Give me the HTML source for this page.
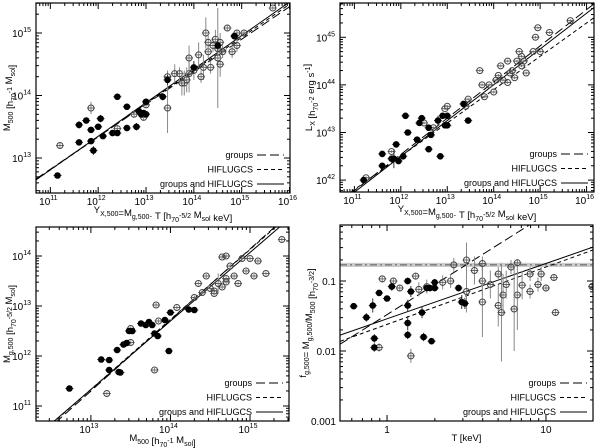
<!DOCTYPE html>
<html><head><meta charset="utf-8"><style>
html,body{margin:0;padding:0;background:#fff}
svg{display:block;font-family:"Liberation Sans",sans-serif}
</style></head><body>
<svg id="fig" width="600" height="448" viewBox="0 0 600 448"></svg>
<script>
// ---- data (log10 values) ----
const tlGroups=[[11.15,12.72,.03],[11.6,13.25,.05],[11.6,13.53,.06],[11.75,13.6,.05],[11.85,13.45,.04],[11.85,13.27,.04],[11.9,13.12,.07],[12.0,13.5,.05],[12.05,13.63,.06],[12.1,13.35,.04],[12.3,13.4,.05],[12.4,13.98,.05],[12.4,13.4,.05],[12.6,13.48,.05],[12.6,13.82,.05],[12.8,13.5,.06],[12.85,13.75,.05],[12.9,13.7,.05],[13.0,13.9,.05],[13.0,13.7,.05],[12.95,13.72,.05],[13.35,13.98,.06],[13.45,14.25,.08],[14.0,14.45,.1],[14.5,14.8,.1],[14.85,14.95,.05]];
const tlHif=[[11.2,13.2,.05],[11.85,13.8,.1],[12.4,13.47,.05],[12.75,13.7,.05],[12.95,13.65,.05],[13.0,13.85,.05],[13.45,13.8,.4],[13.45,14.3,.1],[13.6,14.35,.15],[13.7,14.35,.1],[13.8,14.2,.2],[13.9,14.35,.3],[14.0,14.4,.15],[14.1,14.65,.2],[14.2,14.45,.2],[14.25,15.0,.25],[14.3,14.7,.1],[14.35,14.45,.1],[14.4,14.8,.1],[14.45,14.9,.15],[14.5,14.6,.8],[14.5,14.75,.1],[14.55,14.85,.15],[14.6,14.7,.1],[14.7,15.08,.05],[14.8,14.7,.1],[14.85,14.95,.05],[14.9,15.0,.05],[14.9,14.8,.1],[15.05,15.0,.05],[15.65,15.4,.03],[13.9,14.6,.2],[14.15,14.3,.1],[14.3,14.85,.15],[14.55,14.5,.2],[13.85,14.25,.2],[13.75,14.2,.2]];
const trGroups=[[11.2,42.0,.04],[11.6,42.3,.04],[11.6,42.55,.05],[11.8,42.45,.05],[11.85,42.45,.2],[11.95,42.4,.05],[11.9,42.75,.04],[12.05,42.5,.05],[12.1,43.35,.04],[12.15,43.0,.04],[12.35,42.85,.05],[12.4,43.2,.04],[12.45,43.3,.04],[12.6,43.1,.04],[12.6,42.65,.05],[12.65,42.95,.05],[12.85,42.5,.05],[12.8,43.25,.1],[12.9,43.35,.05],[12.95,43.15,.05],[13.0,43.15,.05],[13.0,43.35,.05],[13.35,43.6,.04],[13.45,43.25,.03]];
const trHif=[[11.25,42.05,.03],[11.8,42.6,.03],[12.5,43.2,.03],[12.7,43.1,.03],[12.95,43.5,.03],[13.0,43.55,.03],[13.4,43.55,.03],[13.45,43.7,.03],[13.7,44.3,.03],[13.75,44.0,.03],[13.8,43.75,.03],[13.9,44.0,.03],[14.0,43.85,.03],[14.05,44.1,.03],[14.1,44.2,.03],[14.15,44.4,.03],[14.2,44.1,.03],[14.3,44.5,.03],[14.35,44.25,.03],[14.4,44.3,.03],[14.45,44.15,.03],[14.5,44.5,.03],[14.55,44.7,.03],[14.6,44.6,.03],[14.65,44.5,.03],[14.7,44.25,.03],[14.85,44.7,.03],[14.9,45.0,.03],[14.95,45.2,.03],[15.0,44.7,.03],[15.2,45.1,.03],[15.65,45.35,.03],[14.3,44.05,.03],[14.6,44.4,.03]];
const blGroups=[[12.73,11.35,.03],[13.13,11.93,.03],[13.23,11.92,.03],[13.23,11.72,.05],[13.35,11.68,.03],[13.37,11.67,.03],[13.33,12.12,.03],[13.41,12.23,.03],[13.45,12.26,.03],[13.48,12.5,.03],[13.52,12.5,.03],[13.63,12.65,.03],[13.69,12.62,.03],[13.73,12.68,.03],[13.77,12.62,.03],[13.8,12.45,.03],[13.84,12.4,.03],[13.93,12.72,.03],[13.98,12.1,.03],[14.0,12.87,.03],[14.23,12.93,.03],[14.3,12.92,.03]];
const blHif=[[13.2,11.25,.04],[13.5,12.55,.04],[13.8,11.72,.04],[13.5,12.27,.04],[13.82,13.02,.04],[13.85,12.7,.04],[14.08,12.97,.04],[14.3,13.17,.04],[14.35,13.45,.04],[14.4,13.27,.04],[14.45,13.6,.04],[14.5,13.35,.04],[14.55,13.3,.04],[14.6,13.45,.2],[14.65,13.38,.04],[14.7,13.55,.04],[14.75,13.8,.04],[14.8,13.6,.04],[14.85,13.45,.04],[14.9,13.95,.04],[14.95,13.7,.04],[15.0,13.95,.04],[15.05,13.6,.04],[15.1,13.9,.04],[15.2,13.65,.04],[15.4,14.33,.04],[14.7,13.48,.04],[14.55,13.25,.04],[14.65,13.98,.04],[14.7,14.0,.04]];
const brGroups=[[-0.21,-1.36,.04],[-0.13,-1.52,.06],[-0.08,-1.82,.06],[-0.09,-1.35,.1],[-0.05,-1.17,.04],[0.0,-1.25,.04],[0.03,-1.08,.06],[0.13,-1.77,.06],[0.13,-1.6,.1],[0.13,-1.35,.08],[0.13,-1.0,.05],[0.15,-1.15,.08],[0.22,-1.45,.08],[0.23,-1.8,.06],[0.25,-1.1,.05],[0.27,-1.1,.05],[0.28,-1.86,.04],[0.3,-1.02,.05],[0.3,-1.1,.05],[0.45,-1.1,.05],[0.47,-1.3,.1],[0.49,-1.32,.08],[-0.08,-1.95,.06]];
const brHif=[[-0.05,-1.95,.06],[0.15,-2.07,.1],[-0.03,-0.97,.05],[0.04,-1.0,.05],[0.08,-1.1,.05],[0.18,-0.93,.05],[0.2,-1.12,.1],[0.25,-1.08,.1],[0.35,-1.02,.1],[0.4,-1.0,.1],[0.42,-0.77,.1],[0.5,-0.7,.25],[0.5,-1.15,.3],[0.55,-0.85,.2],[0.6,-1.0,.2],[0.6,-0.75,.1],[0.6,-1.3,.5],[0.65,-1.05,.2],[0.7,-1.35,.3],[0.72,-1.45,.7],[0.73,-1.2,.3],[0.75,-1.05,.2],[0.82,-1.2,.5],[0.8,-1.4,.6],[0.85,-1.06,.2],[0.9,-1.15,.1],[0.95,-1.05,.1],[1.0,-1.1,.05],[1.06,-1.45,.05],[0.78,-0.8,.1],[0.82,-0.74,.05],[0.97,-0.9,.1],[1.05,-0.95,.05],[0.9,-0.9,.1],[0.7,-0.9,.1],[1.29,-1.08,.05]];
// fit lines: [slope, value at pivot, pivot]
const tlFits=[[0.52,13.86,13],[0.53,13.87,13],[0.537,13.885,13]];
const trFits=[[0.76,43.3,13],[0.70,43.2,13],[0.752,43.25,13]];
const blFits=[[1.42,12.72,14],[1.40,12.73,14],[1.37,12.7,14]];
const brFits=[[1.43,-1.48,0],[0.82,-1.62,0],[0.79,-1.54,0]];
const brBand=[-0.77,0.03];

const NS="http://www.w3.org/2000/svg";
const svg=document.getElementById('fig');
function el(t,a,p){const e=document.createElementNS(NS,t);for(const k in a)e.setAttribute(k,a[k]);(p||svg).appendChild(e);return e;}

function panel(c){
  const g=el('g',{});
  
  
  const X=v=>c.x0+(v-c.xmin)/(c.xmax-c.xmin)*(c.x1-c.x0);
  const Y=v=>c.y1-(v-c.ymin)/(c.ymax-c.ymin)*(c.y1-c.y0);
  const clip='clip'+c.name;
  const cp=el('clipPath',{id:clip},g);el('rect',{x:c.x0,y:c.y0,width:c.x1-c.x0,height:c.y1-c.y0},cp);
  const pg=el('g',{'clip-path':'url(#'+clip+')'},g);
  if(c.band){
    const b=el('rect',{x:c.x0,y:Y(c.band[0]+c.band[1]),width:c.x1-c.x0,height:Y(c.band[0]-c.band[1])-Y(c.band[0]+c.band[1]),fill:'#ccc'},pg);
    
    
    const bl=el('line',{x1:c.x0,x2:c.x1,y1:Y(c.band[0]),y2:Y(c.band[0]),stroke:'#555','stroke-width':1,'stroke-dasharray':'7,3,2,3'},pg);
    
    
  }
  const dashes=['9,4','4,3','none'];
  const names=['groups','HIFLUGCS','groups and HIFLUGCS'];
  c.fits.forEach((f,i)=>{
    const ya=f[1]+f[0]*(c.xmin-f[2]), yb=f[1]+f[0]*(c.xmax-f[2]);
    const l=el('line',{x1:X(c.xmin),y1:Y(ya),x2:X(c.xmax),y2:Y(yb),stroke:'#000','stroke-width':1,'stroke-dasharray':dashes[i]},pg);
    
    
  });
  const pts=(arr,filled)=>arr.forEach(p=>{
    const cx=X(p[0]),cy=Y(p[1]);
    el('line',{x1:cx,x2:cx,y1:Y(p[1]+p[2]),y2:Y(p[1]-p[2]),stroke:filled?'#333':'#888','stroke-width':1},pg);
    el('line',{x1:cx-4,x2:cx+4,y1:cy,y2:cy,stroke:filled?'#333':'#666','stroke-width':1},pg);
    const d=el('circle',{cx:cx,cy:cy,r:filled?2.8:3,fill:filled?'#000':'none',stroke:filled?'#000':'#444','stroke-width':1},pg);
    
    
  });
  pts(c.hif,false);pts(c.groups,true);
  el('rect',{x:c.x0,y:c.y0,width:c.x1-c.x0,height:c.y1-c.y0,fill:'none',stroke:'#000','stroke-width':1.2},g);
  const tk=(lo,hi,fn)=>{for(let d=Math.floor(lo);d<=Math.ceil(hi);d++)for(let m=1;m<10;m++){const v=d+Math.log10(m);if(v<lo-1e-9||v>hi+1e-9)continue;fn(v,m===1);}};
  const ax=el('g',{},g);
  tk(c.xmin,c.xmax,(v,maj)=>{const x=X(v),L=maj?6:3;
    el('line',{x1:x,x2:x,y1:c.y1,y2:c.y1-L,stroke:'#000'},ax);el('line',{x1:x,x2:x,y1:c.y0,y2:c.y0+L,stroke:'#000'},ax);
    if(maj&&c.xlog){const t=el('text',{x:x-2,y:c.y1+12,'font-size':10,'text-anchor':'middle'},ax);t.textContent='10';const s=el('tspan',{dy:-5,'font-size':7},t);s.textContent=Math.round(v);}
    if(maj&&!c.xlog){const t=el('text',{x:x,y:c.y1+12,'font-size':10,'text-anchor':'middle'},ax);t.textContent=Math.round(Math.pow(10,v));}
  });
  const ay=el('g',{},g);
  tk(c.ymin,c.ymax,(v,maj)=>{const y=Y(v),L=maj?6:3;
    el('line',{x1:c.x0,x2:c.x0+L,y1:y,y2:y,stroke:'#000'},ay);el('line',{x1:c.x1,x2:c.x1-L,y1:y,y2:y,stroke:'#000'},ay);
    if(maj&&c.ylog){const t=el('text',{x:c.x0-5,y:y+4,'font-size':10,'text-anchor':'end'},ay);t.textContent='10';const s=el('tspan',{dy:-5,'font-size':7},t);s.textContent=Math.round(v);}
    if(maj&&!c.ylog){const t=el('text',{x:c.x0-4,y:y+4,'font-size':10,'text-anchor':'end'},ay);t.textContent=String(Math.pow(10,Math.round(v)).toFixed(Math.max(0,-Math.round(v))));}
  });
  const xl=el('text',{x:(c.x0+c.x1)/2,y:c.y1+20,'font-size':9.5,'text-anchor':'middle'},g);xl.innerHTML=c.xlabel;
  
  const yl=el('text',{x:0,y:0,'font-size':9.5,'text-anchor':'middle',transform:`translate(${c.ylx},${(c.y0+c.y1)/2}) rotate(-90)`},g);yl.innerHTML=c.ylabel;
  
  const lg=el('g',{},g);
  names.forEach((n,i)=>{const ly=c.y1-38+i*14.5;
    const t=el('text',{x:c.x1-37,y:ly+3,'font-size':9,'text-anchor':'end'},lg);t.textContent=n;
    el('line',{x1:c.x1-33,x2:c.x1-6,y1:ly,y2:ly,stroke:'#000','stroke-dasharray':dashes[i]},lg);
  });
}
const sub=(s)=>`<tspan dy="3" font-size="7">${s}</tspan><tspan dy="-3"></tspan>`;
const sup=(s)=>`<tspan dy="-4" font-size="7">${s}</tspan><tspan dy="4"></tspan>`;
const xlY=`Y${sub('X,500')}=M${sub('g,500')}· T [h${sub('70')}${sup('-5/2')} M${sub('sol')} keV]`;
panel({name:'panel-m500-yx',x0:36,x1:290,y0:3,y1:193,xmin:10.7,xmax:16.01,ymin:12.44,ymax:15.48,xlog:1,ylog:1,groups:tlGroups,hif:tlHif,fits:tlFits,ylx:10,
  xlabel:xlY,ylabel:`M${sub('500')} [h${sub('70')}${sup('-1')} M${sub('sol')}]`});
panel({name:'panel-lx-yx',x0:340,x1:594,y0:3,y1:192,xmin:10.69,xmax:16.16,ymin:41.75,ymax:45.72,xlog:1,ylog:1,groups:trGroups,hif:trHif,fits:trFits,ylx:312,
  xlabel:xlY,ylabel:`L${sub('X')} [h${sub('70')}${sup('-2')} erg s${sup('-1')}]`});
panel({name:'panel-mg-m500',x0:36,x1:289,y0:227,y1:421,xmin:12.31,xmax:15.49,ymin:10.7,ymax:14.58,xlog:1,ylog:1,groups:blGroups,hif:blHif,fits:blFits,ylx:10,
  xlabel:`M${sub('500')} [h${sub('70')}${sup('-1')} M${sub('sol')}]`,ylabel:`M${sub('g,500')} [h${sub('70')}${sup('-5/2')} M${sub('sol')}]`});
panel({name:'panel-fgas-t',x0:340,x1:593,y0:225,y1:421,xmin:-0.296,xmax:1.296,ymin:-3,ymax:-0.2,xlog:0,ylog:0,groups:brGroups,hif:brHif,fits:brFits,band:brBand,ylx:306,
  xlabel:`T [keV]`,ylabel:`f${sub('g,500')}= M${sub('g,500')}/M${sub('500')} [h${sub('70')}${sup('-3/2')}]`});
</script>
</body></html>
